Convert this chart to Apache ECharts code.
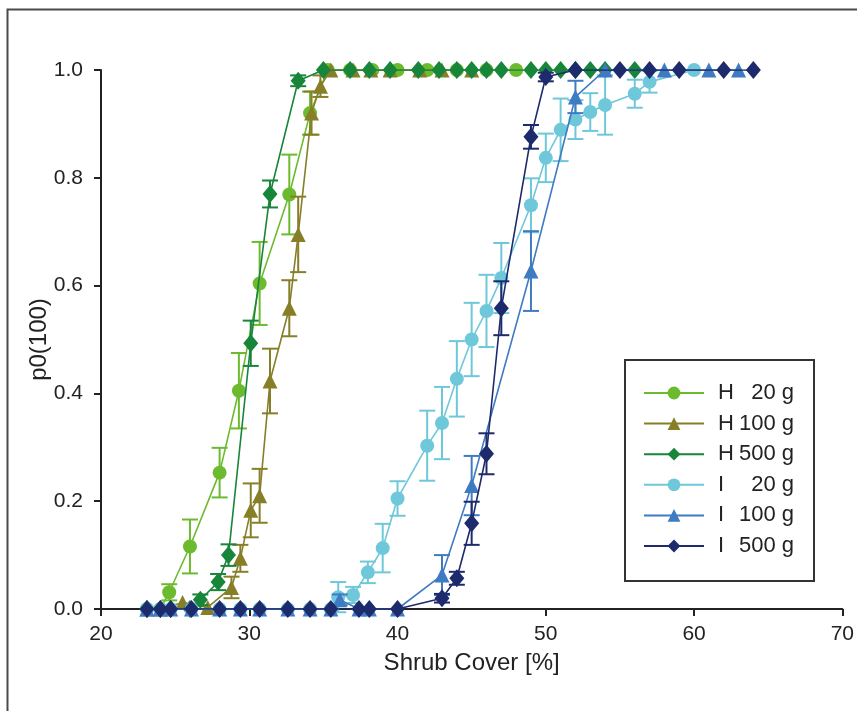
<!DOCTYPE html>
<html>
<head>
<meta charset="utf-8">
<script src="https://cdn.jsdelivr.net/npm/echarts@6/dist/echarts.min.js"></script>
<style>
  html, body { margin: 0; padding: 0; background: #fff; }
  #chart { width: 857px; height: 711px; }
</style>
</head>
<body>
<div id="chart"></div>
<script>
// Probability p0(100) against shrub cover for two scenarios (H, I) and three sizes.
const seriesNames = ['H   20 g', 'H 100 g', 'H 500 g', 'I    20 g', 'I  100 g', 'I  500 g'];

const h20x = [23.1, 24.0, 24.6, 26.0, 28.0, 29.3, 30.7, 32.7, 34.1, 35.3, 36.8, 38.3, 40.0, 42.0, 44.0, 46.0, 48.0];
const h20y = [0, 0, 0.031, 0.116, 0.253, 0.405, 0.604, 0.769, 0.92, 1, 1, 1, 1, 1, 1, 1, 1];
const h20e = [0, 0, 0.015, 0.05, 0.046, 0.07, 0.077, 0.074, 0.04, 0, 0, 0, 0, 0, 0, 0, 0];

const h100x = [23.1, 24.0, 25.5, 27.2, 28.8, 29.4, 30.1, 30.7, 31.4, 32.7, 33.3, 34.2, 34.8, 35.5, 37.0, 38.2, 39.5, 41.5, 43.0, 45.0];
const h100y = [0, 0, 0.012, 0.003, 0.04, 0.094, 0.183, 0.21, 0.423, 0.558, 0.695, 0.92, 0.97, 1, 1, 1, 1, 1, 1, 1];
const h100e = [0, 0, 0, 0, 0.02, 0.025, 0.05, 0.05, 0.06, 0.052, 0.07, 0.04, 0.02, 0, 0, 0, 0, 0, 0, 0];

const h500x = [23.1, 24.0, 24.7, 26.0, 26.7, 27.9, 28.6, 30.1, 31.4, 33.3, 35.0, 36.8, 38.1, 39.5, 41.4, 42.8, 44.0, 45.0, 46.0, 47.0, 49.0, 50.0, 51.0, 52.0, 53.0, 54.0, 56.0];
const h500y = [0, 0, 0, 0, 0.017, 0.05, 0.1, 0.493, 0.77, 0.98, 1, 1, 1, 1, 1, 1, 1, 1, 1, 1, 1, 1, 1, 1, 1, 1, 1];
const h500e = [0, 0, 0, 0, 0.01, 0.015, 0.02, 0.042, 0.025, 0.01, 0, 0, 0, 0, 0, 0, 0, 0, 0, 0, 0, 0, 0, 0, 0, 0, 0];

const i20x = [23.1, 24.0, 24.7, 26.1, 28.0, 29.4, 30.7, 32.6, 34.1, 35.5, 36.0, 37.0, 38.0, 39.0, 40.0, 42.0, 43.0, 44.0, 45.0, 46.0, 47.0, 49.0, 50.0, 51.0, 52.0, 53.0, 54.0, 56.0, 57.0, 60.0];
const i20y = [0, 0, 0, 0, 0, 0, 0, 0, 0, 0, 0.022, 0.026, 0.068, 0.113, 0.205, 0.303, 0.345, 0.427, 0.5, 0.553, 0.614, 0.749, 0.837, 0.889, 0.908, 0.922, 0.935, 0.956, 0.978, 1];
const i20e = [0, 0, 0, 0, 0, 0, 0, 0, 0, 0, 0.028, 0.015, 0.02, 0.045, 0.032, 0.065, 0.067, 0.07, 0.068, 0.067, 0.065, 0.05, 0.045, 0.058, 0.036, 0.035, 0.055, 0.026, 0.02, 0];

const i100x = [23.1, 24.0, 24.7, 26.1, 28.0, 29.4, 30.7, 32.6, 34.1, 35.5, 36.1, 37.4, 38.1, 40.0, 43.0, 45.0, 49.0, 52.0, 54.0, 58.0, 61.0, 63.0];
const i100y = [0, 0, 0, 0, 0, 0, 0, 0, 0, 0, 0.017, 0, 0, 0, 0.063, 0.229, 0.627, 0.95, 1, 1, 1, 1];
const i100e = [0, 0, 0, 0, 0, 0, 0, 0, 0, 0, 0.01, 0, 0, 0, 0.037, 0.055, 0.074, 0.03, 0, 0, 0, 0];

const i500x = [23.1, 24.0, 24.7, 26.1, 28.0, 29.4, 30.7, 32.6, 34.1, 35.5, 37.4, 38.1, 40.0, 43.0, 44.0, 45.0, 46.0, 47.0, 49.0, 50.0, 52.0, 55.0, 57.0, 59.0, 62.0, 64.0];
const i500y = [0, 0, 0, 0, 0, 0, 0, 0, 0, 0, 0, 0, 0, 0.02, 0.057, 0.159, 0.288, 0.558, 0.876, 0.987, 1, 1, 1, 1, 1, 1];
const i500e = [0, 0, 0, 0, 0, 0, 0, 0, 0, 0, 0, 0, 0, 0.008, 0.012, 0.04, 0.038, 0.05, 0.022, 0.008, 0, 0, 0, 0, 0, 0];

const xTicks = [20, 30, 40, 50, 60, 70];
const yTicks = [0, 0.2, 0.4, 0.6, 0.8, 1.0];

const FONT = "'Liberation Sans', Arial, Helvetica, sans-serif";

const groups = [
  { name: seriesNames[0], x: h20x,  y: h20y,  e: h20e,  color: '#6cbb2f', symbol: 'circle',   size: 14 },
  { name: seriesNames[1], x: h100x, y: h100y, e: h100e, color: '#877f28', symbol: 'triangle', size: 15 },
  { name: seriesNames[2], x: h500x, y: h500y, e: h500e, color: '#17853a', symbol: 'diamond',  size: [15, 18] },
  { name: seriesNames[3], x: i20x,  y: i20y,  e: i20e,  color: '#6ec8da', symbol: 'circle',   size: 14 },
  { name: seriesNames[4], x: i100x, y: i100y, e: i100e, color: '#3f7bc2', symbol: 'triangle', size: 15 },
  { name: seriesNames[5], x: i500x, y: i500y, e: i500e, color: '#1d2a6c', symbol: 'diamond',  size: [15, 18] }
];

function errorBarRenderer(color) {
  return function (params, api) {
    const x = api.value(0), y = api.value(1), e = api.value(2);
    const top = api.coord([x, y + e]);
    const bot = api.coord([x, y - e]);
    const hw = 8;
    const style = { stroke: color, lineWidth: 2 };
    return {
      type: 'group',
      children: [
        { type: 'line', shape: { x1: top[0], y1: top[1], x2: bot[0], y2: bot[1] }, style },
        { type: 'line', shape: { x1: top[0] - hw, y1: top[1], x2: top[0] + hw, y2: top[1] }, style },
        { type: 'line', shape: { x1: bot[0] - hw, y1: bot[1], x2: bot[0] + hw, y2: bot[1] }, style }
      ]
    };
  };
}

const series = [];
groups.forEach(function (g, k) {
  const errData = [];
  g.x.forEach(function (xv, i) { if (g.e[i] > 0) errData.push([xv, g.y[i], g.e[i]]); });
  series.push({
    type: 'custom',
    name: g.name + ' err',
    renderItem: errorBarRenderer(g.color),
    data: errData,
    z: 2 + k * 2,
    silent: true
  });
  series.push({
    type: 'line',
    name: g.name,
    data: g.x.map(function (xv, i) { return [xv, g.y[i]]; }),
    symbol: g.symbol,
    symbolSize: g.size,
    showAllSymbol: true,
    color: g.color,
    lineStyle: { color: g.color, width: 1.6 },
    itemStyle: { color: g.color },
    z: 3 + k * 2,
    animation: false
  });
});

const chart = echarts.init(document.getElementById('chart'), null, { renderer: 'canvas' });
chart.setOption({
  animation: false,
  backgroundColor: '#ffffff',
  textStyle: { fontFamily: FONT },
  graphic: [{
    type: 'rect',
    left: 5, top: 7,
    shape: { x: 0, y: 0, width: 900, height: 800 },
    style: { fill: 'none', stroke: '#4a4a4a', lineWidth: 2 },
    z: 0
  }],
  grid: { left: 101, right: 12, top: 70, bottom: 102, containLabel: false },
  xAxis: {
    type: 'value',
    min: xTicks[0], max: xTicks[xTicks.length - 1], interval: 10,
    name: 'Shrub Cover [%]',
    nameLocation: 'middle',
    nameGap: 42,
    nameMoveOverlap: false,
    nameTextStyle: { fontSize: 24, color: '#222', fontFamily: FONT },
    axisLine: { lineStyle: { color: '#222', width: 2 } },
    axisTick: { show: true, length: 7, inside: false, lineStyle: { color: '#222', width: 2 } },
    axisLabel: { fontSize: 21, color: '#222', margin: 15, fontFamily: FONT },
    splitLine: { show: false }
  },
  yAxis: {
    type: 'value',
    min: yTicks[0], max: yTicks[yTicks.length - 1], interval: 0.2,
    name: 'p0(100)',
    nameLocation: 'middle',
    nameGap: 50,
    nameMoveOverlap: false,
    nameRotate: 90,
    nameTextStyle: { fontSize: 24, color: '#222', fontFamily: FONT },
    axisLine: { show: true, lineStyle: { color: '#222', width: 2 } },
    axisTick: { show: true, length: 7, inside: false, lineStyle: { color: '#222', width: 2 } },
    axisLabel: { fontSize: 21, color: '#222', margin: 18, fontFamily: FONT,
      formatter: function (v) { return v.toFixed(1); } },
    splitLine: { show: false }
  },
  legend: {
    data: seriesNames,
    orient: 'vertical',
    left: 625, top: 360,
    width: 199,
    padding: [22, 20, 24, 18],
    itemWidth: 60,
    itemHeight: 16,
    itemGap: 8.6,
    backgroundColor: '#fff',
    borderColor: '#333',
    borderWidth: 2,
    borderRadius: 0,
    textStyle: {
      fontSize: 22, color: '#222', fontFamily: FONT, lineHeight: 22,
      rich: {
        h: { fontSize: 22, fontFamily: FONT, width: 16, padding: [0, 0, 0, 9], lineHeight: 22 },
        v: { fontSize: 22, fontFamily: FONT, width: 60, align: 'right', lineHeight: 22 }
      }
    },
    formatter: function (name) {
      const parts = name.trim().split(/\s+/);
      return '{h|' + parts[0] + '}{v|' + parts.slice(1).join(' ') + '}';
    }
  },
  series: series
});
</script>
</body>
</html>
